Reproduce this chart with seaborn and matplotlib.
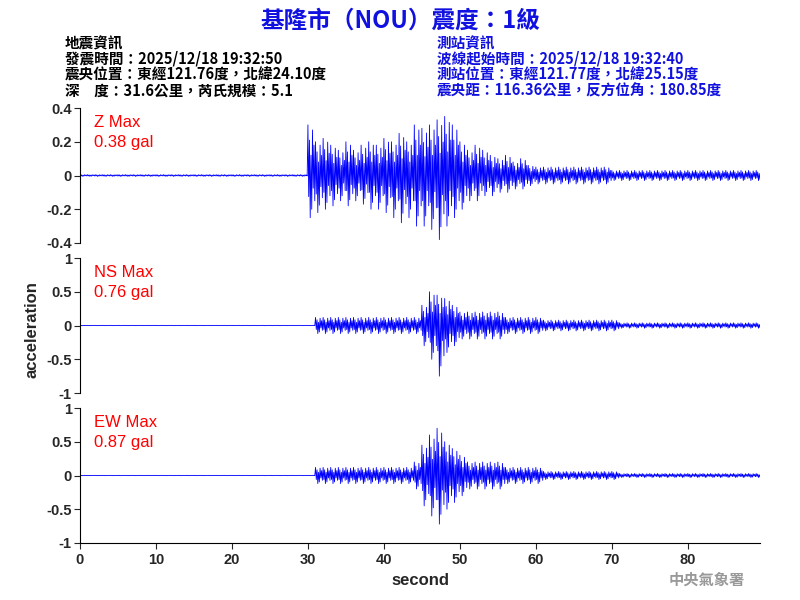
import matplotlib
matplotlib.use("Agg")
import matplotlib.pyplot as plt
import pandas as pd
import seaborn as sns

# peak amplitude per second (gal)
z_up = [0.005] * 30 + [0.3, 0.2, 0.22, 0.18, 0.15, 0.2, 0.15, 0.18, 0.2, 0.18,
                       0.22, 0.2, 0.25, 0.2, 0.3, 0.28, 0.3, 0.33, 0.35, 0.3,
                       0.2, 0.15, 0.18, 0.15, 0.12, 0.1, 0.12, 0.08, 0.1, 0.06] + [0.05] * 10 + [0.03] * 20
z_dn = [0.005] * 30 + [0.25, 0.22, 0.2, 0.18, 0.15, 0.18, 0.15, 0.17, 0.2, 0.2,
                       0.22, 0.25, 0.28, 0.25, 0.3, 0.3, 0.32, 0.38, 0.3, 0.25,
                       0.2, 0.15, 0.15, 0.12, 0.12, 0.1, 0.1, 0.08, 0.08, 0.06] + [0.05] * 10 + [0.03] * 20
ns_up = [0.003] * 31 + [0.12] * 14 + [0.3, 0.5, 0.45, 0.4, 0.3] + [0.2] * 6 + [0.12] * 5 + [0.08] * 10 + [0.04] * 19
ns_dn = [0.003] * 31 + [0.12] * 14 + [0.3, 0.5, 0.75, 0.4, 0.3] + [0.2] * 6 + [0.12] * 5 + [0.08] * 10 + [0.04] * 19
ew_up = [0.003] * 31 + [0.12] * 13 + [0.2, 0.45, 0.6, 0.7, 0.5, 0.4, 0.3] + [0.2] * 5 + [0.12] * 5 + [0.06] * 10 + [0.03] * 19
ew_dn = [0.003] * 31 + [0.12] * 13 + [0.2, 0.45, 0.6, 0.72, 0.5, 0.4, 0.3] + [0.2] * 5 + [0.12] * 5 + [0.06] * 10 + [0.03] * 19

components = ["Z", "NS", "EW"]
max_gal = ["0.38", "0.76", "0.87"]
y_limits = [0.4, 1, 1]
y_ticks = [[-0.4, -0.2, 0, 0.2, 0.4], [-1, -0.5, 0, 0.5, 1], [-1, -0.5, 0, 0.5, 1]]

shape = [1.0, -0.5, 0.7, -1.0, 0.4, -0.8, 0.9, -0.3, 0.6, -0.6]


def trace(up, dn):
    t, v = [], []
    for i, (a, b) in enumerate(zip(up, dn)):
        for k, w in enumerate(shape):
            t.append(i + k / len(shape))
            v.append(w * (a if w > 0 else b))
    return pd.DataFrame({"t": t, "v": v})


sns.set_style("white")
plt.rcParams["font.family"] = ["Noto Sans CJK TC", "DejaVu Sans"]
LAT = "Liberation Sans"

fig = plt.figure(figsize=(8, 6), dpi=100)
tops = [108, 258, 408]
axes = [fig.add_axes([80 / 800, 1 - (t + 135) / 600, 680 / 800, 135 / 600]) for t in tops]
data = [(z_up, z_dn), (ns_up, ns_dn), (ew_up, ew_dn)]

for ax, (up, dn), name, mx, lim, ticks in zip(axes, data, components, max_gal, y_limits, y_ticks):
    sns.lineplot(data=trace(up, dn), x="t", y="v", ax=ax, color="blue", linewidth=0.6)
    ax.set_xlim(0, 89.5)
    ax.set_ylim(-lim, lim)
    ax.set_yticks(ticks)
    ax.set_yticklabels([f"{v:g}" for v in ticks], fontsize=10.5, family=LAT, fontweight="bold")
    ax.set_ylabel("")
    ax.set_xlabel("")
    for s in ["top", "right"]:
        ax.spines[s].set_visible(False)
    ax.spines["left"].set_color("black")
    ax.tick_params(axis="y", length=4, direction="out", left=True, pad=2)
    ax.text(0.02, 0.95, f"{name} Max\n{mx} gal", transform=ax.transAxes, color="red",
            fontsize=12, va="top", family=LAT, linespacing=1.4)
    if ax is not axes[-1]:
        ax.spines["bottom"].set_visible(False)
        ax.set_xticks([])
    else:
        ax.spines["bottom"].set_color("black")
        ax.set_xticks(range(0, 90, 10))
        ax.set_xticklabels([str(v) for v in range(0, 90, 10)], fontsize=10.5, family=LAT, fontweight="bold")
        ax.tick_params(axis="x", length=4, bottom=True)
        ax.set_xlabel("second", fontsize=12, family=LAT, fontweight="bold")

fig.text(0.04, 0.45, "acceleration", rotation=90, ha="center", va="center", fontsize=12,
         family=LAT, fontweight="bold")

fig.text(0.5, 0.965, "基隆市（NOU）震度：1級", color="#1010e0", fontsize=17, fontweight="bold", ha="center", va="center")
left = ["地震資訊", "發震時間：2025/12/18 19:32:50", "震央位置：東經121.76度，北緯24.10度", "深　度：31.6公里，芮氏規模：5.1"]
right = ["測站資訊", "波線起始時間：2025/12/18 19:32:40", "測站位置：東經121.77度，北緯25.15度", "震央距：116.36公里，反方位角：180.85度"]
for i, (l, r) in enumerate(zip(left, right)):
    y = 1 - (43 + i * 16) / 600
    fig.text(65 / 800, y, l, fontsize=10.5, va="center", color="black", fontweight="bold")
    fig.text(437 / 800, y, r, fontsize=10.5, va="center", color="#1010e0", fontweight="bold")
fig.text(745 / 800, 1 - 580 / 600, "中央氣象署", fontsize=11, color="#999999", ha="right", va="center", fontweight="bold")

fig.savefig("out.png", dpi=100)
